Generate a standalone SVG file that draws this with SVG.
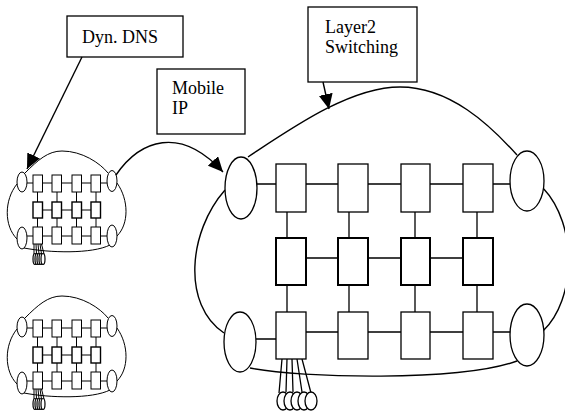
<svg xmlns="http://www.w3.org/2000/svg" xmlns:xlink="http://www.w3.org/1999/xlink" width="565" height="414" viewBox="0 0 565 414">
  <style>
    .shape { fill: #fff; stroke: #000; stroke-width: 1.3; }
    .thick { fill: #fff; stroke: #000; stroke-width: 2; }
    .wire { fill: none; stroke: #000; stroke-width: 1.3; }
    .curve { fill: none; stroke: #000; stroke-width: 1.4; }
    .label { fill: #fff; stroke: #000; stroke-width: 1.3; }
    text { font-family: "Liberation Serif", "Times New Roman", "DejaVu Serif", serif; font-size: 18px; fill: #000; }
    .s-shape { fill: #fff; stroke: #000; stroke-width: 1; }
    .s-thick { fill: #fff; stroke: #000; stroke-width: 1.4; }
    .s-wire { fill: none; stroke: #000; stroke-width: 1; }
    .s-host { fill: #fff; stroke: #000; stroke-width: 1.2; }
  </style>
  <defs>
    <marker id="arrow" markerUnits="userSpaceOnUse" markerWidth="16" markerHeight="14" viewBox="0 0 16 14" refX="15" refY="7" orient="auto">
      <path d="M0,0 L15,7 L0,14 Z" fill="#000"/>
    </marker>

    <!-- compact switched network, reused twice on the left -->
    <g id="mini-net">
      <g class="s-wire">
        <path d="M25,173 C 38,160 48,151 62,151 C 82,151 100,163 108,173"/>
        <path d="M17,184 C 4,200 4,226 17,239"/>
        <path d="M117,183 C 129,200 129,224 117,236"/>
        <path d="M24,248 C 50,253 92,254 110,245"/>
        <!-- row 1 -->
        <path d="M27,183 H33 M42.5,183 H52 M61.5,183 H72 M81.5,183 H91 M100.5,183 H107"/>
        <!-- row 2 -->
        <path d="M42.5,210 H52 M61.5,210 H72 M81.5,210 H91"/>
        <!-- row 3 -->
        <path d="M27,236 H33 M42.5,236 H52 M61.5,236 H72 M81.5,236 H91 M100.5,236 H107"/>
        <!-- verticals -->
        <path d="M37.5,192 V202 M57,192 V202 M76.5,192 V202 M96,192 V202"/>
        <path d="M37.5,218 V227 M57,218 V227 M76.5,218 V227 M96,218 V227"/>
        <!-- fan-out -->
        <path d="M34,244 L34,254 M36,244 L36.5,254 M38,244 L39,254 M40,244 L41.5,254 M41.5,244 L44,254"/>
      </g>
      <ellipse class="s-shape" cx="22" cy="182" rx="5" ry="10"/>
      <ellipse class="s-shape" cx="112" cy="181" rx="5" ry="10.5"/>
      <ellipse class="s-shape" cx="22" cy="238" rx="5" ry="11"/>
      <ellipse class="s-shape" cx="112" cy="236" rx="5" ry="11"/>
      <rect class="s-shape" x="33" y="175" width="9.5" height="17"/>
      <rect class="s-shape" x="52" y="175" width="9.5" height="17"/>
      <rect class="s-shape" x="72" y="175" width="9.5" height="17"/>
      <rect class="s-shape" x="91" y="175" width="9.5" height="17"/>
      <rect class="s-thick" x="33" y="202" width="9.5" height="16"/>
      <rect class="s-thick" x="52" y="202" width="9.5" height="16"/>
      <rect class="s-thick" x="72" y="202" width="9.5" height="16"/>
      <rect class="s-thick" x="91" y="202" width="9.5" height="16"/>
      <rect class="s-shape" x="33" y="227" width="9.5" height="17"/>
      <rect class="s-shape" x="52" y="227" width="9.5" height="17"/>
      <rect class="s-shape" x="72" y="227" width="9.5" height="17"/>
      <rect class="s-shape" x="91" y="227" width="9.5" height="17"/>
      <g class="s-host">
        <ellipse cx="35" cy="259" rx="2" ry="5.5"/>
        <ellipse cx="37" cy="259" rx="2" ry="5.5"/>
        <ellipse cx="39" cy="259" rx="2" ry="5.5"/>
        <ellipse cx="41" cy="259" rx="2" ry="5.5"/>
        <ellipse cx="43" cy="259" rx="2" ry="5.5"/>
      </g>
    </g>
  </defs>

  <rect width="565" height="414" fill="#fff"/>

  <!-- small networks -->
  <g id="net-small-1">
    <use href="#mini-net" xlink:href="#mini-net"/>
  </g>
  <g id="net-small-2">
    <use href="#mini-net" xlink:href="#mini-net" transform="translate(0,145)"/>
  </g>

  <!-- large switched network -->
  <g id="net-large">
    <g class="curve">
      <path d="M248,157 C 292,128 350,87 400,87 C 450,87 490,125 517,155"/>
      <path d="M225,190 C 188,232 182,305 224,333"/>
      <path d="M543,188 C 578,225 576,300 543,331"/>
      <path d="M250,368 C 300,378 460,382 517,361"/>
    </g>
    <g class="wire">
      <path d="M257,184 H276 M306,184 H338 M368,184 H401 M430,184 H463 M493,184 H510"/>
      <path d="M306,258 H338 M368,258 H401 M430,258 H463"/>
      <path d="M256,339 H276 M306,332 H338 M368,332 H401 M430,332 H463 M493,332 H511"/>
      <path d="M287,212 V238 M349,212 V238 M415,212 V238 M477,212 V238"/>
      <path d="M287,285 V312 M349,285 V312 M415,285 V312 M477,285 V312"/>
      <path d="M282,359 L279,393 M287,359 L286,392 M292,359 L293,392 M297,359 L302,392 M302,359 L311,393"/>
    </g>
    <g id="edge-tl"><ellipse class="shape" cx="241" cy="188" rx="16" ry="31"/></g>
    <g id="edge-tr"><ellipse class="shape" cx="527" cy="181" rx="17" ry="30"/></g>
    <g id="edge-bl"><ellipse class="shape" cx="240" cy="342" rx="16" ry="30"/></g>
    <g id="edge-br"><ellipse class="shape" cx="527" cy="335" rx="17" ry="31"/></g>
    <g id="sw-1-1"><rect class="shape" x="276" y="164" width="30" height="48"/></g>
    <g id="sw-1-2"><rect class="shape" x="338" y="164" width="30" height="48"/></g>
    <g id="sw-1-3"><rect class="shape" x="401" y="164" width="29" height="48"/></g>
    <g id="sw-1-4"><rect class="shape" x="463" y="164" width="30" height="48"/></g>
    <g id="sw-2-1"><rect class="thick" x="276" y="238" width="30" height="47"/></g>
    <g id="sw-2-2"><rect class="thick" x="338" y="238" width="30" height="47"/></g>
    <g id="sw-2-3"><rect class="thick" x="401" y="238" width="29" height="47"/></g>
    <g id="sw-2-4"><rect class="thick" x="463" y="238" width="30" height="47"/></g>
    <g id="sw-3-1"><rect class="shape" x="276" y="312" width="30" height="47"/></g>
    <g id="sw-3-2"><rect class="shape" x="338" y="312" width="30" height="47"/></g>
    <g id="sw-3-3"><rect class="shape" x="401" y="312" width="29" height="47"/></g>
    <g id="sw-3-4"><rect class="shape" x="463" y="312" width="30" height="47"/></g>
    <g id="hosts" class="shape">
      <ellipse cx="283" cy="401" rx="6" ry="9"/>
      <ellipse cx="290" cy="401" rx="6" ry="9"/>
      <ellipse cx="297" cy="401" rx="6" ry="9"/>
      <ellipse cx="304" cy="401" rx="6" ry="9"/>
      <ellipse cx="311" cy="401" rx="6" ry="9"/>
    </g>
  </g>

  <!-- callout boxes -->
  <g id="dyn-dns">
    <rect class="label" x="67" y="16" width="116" height="41"/>
    <text x="82" y="43" font-family="Liberation Serif, serif">Dyn. DNS</text>
  </g>
  <g id="mobile-ip">
    <rect class="label" x="157" y="69" width="88" height="65"/>
    <text x="172" y="94" font-family="Liberation Serif, serif">Mobile</text>
    <text x="172" y="114" font-family="Liberation Serif, serif">IP</text>
  </g>
  <g id="layer2">
    <rect class="label" x="308" y="7" width="109" height="75"/>
    <text x="325" y="33" font-family="Liberation Serif, serif">Layer2</text>
    <text x="325" y="53" font-family="Liberation Serif, serif">Switching</text>
  </g>

  <!-- connectors -->
  <g id="connectors" class="curve">
    <path d="M82,57 L27,169" marker-end="url(#arrow)"/>
    <path d="M116,175 C 140,140 180,125 223,172" marker-end="url(#arrow)"/>
    <path d="M323,82 L329,109" marker-end="url(#arrow)"/>
  </g>
</svg>
